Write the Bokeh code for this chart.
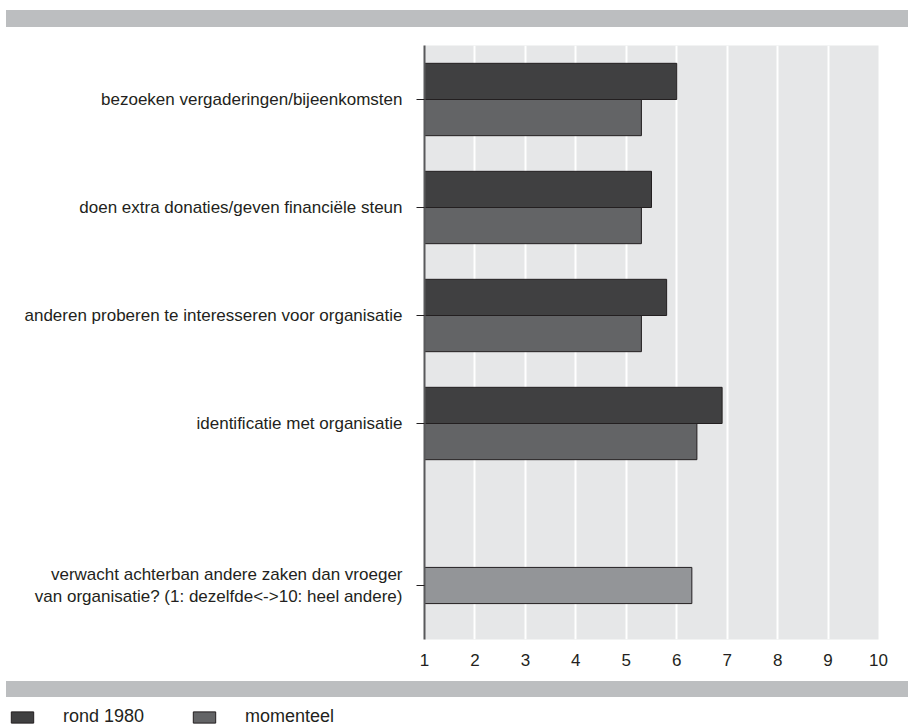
from bokeh.plotting import figure
from bokeh.models import (ColumnDataSource, FactorRange, Range1d, FixedTicker,
                          Legend, LegendItem, Div)
from bokeh.transform import dodge
from bokeh.layouts import column, row
from bokeh.embed import file_html
from bokeh.resources import INLINE

# ---- data ----
categories = [
    "bezoeken vergaderingen/bijeenkomsten",
    "doen extra donaties/geven financiële steun",
    "anderen proberen te interesseren voor organisatie",
    "identificatie met organisatie",
]
rond_1980 = [6.0, 5.5, 5.8, 6.9]
momenteel = [5.3, 5.3, 5.3, 6.4]
extra_category = ["verwacht achterban andere zaken dan vroeger\nvan organisatie? (1: dezelfde<->10: heel andere)"]
extra_value = [6.3]
x_ticks = [1, 2, 3, 4, 5, 6, 7, 8, 9, 10]
legend_labels = ["rond 1980", "momenteel"]

FONT = "Liberation Sans"
FS = "17px"
TEXT = "#231f20"
DARK = "#404041"
MID = "#636466"
LIGHT = "#939598"
BAND = "#bcbec0"
PANEL = "#e6e7e8"

# ---- top band ----
top_band = Div(text="", width=902, height=17, margin=(10, 0, 0, 6),
               styles={"background-color": BAND})

# ---- main chart ----
factors = [(" ", c) for c in extra_category] + [("", c) for c in reversed(categories)]
yr = FactorRange(*factors, group_padding=0.5, range_padding=0)

p = figure(width=908, height=654, output_backend="svg", toolbar_location=None,
           y_range=yr, x_range=Range1d(1, 10),
           min_border_left=424, min_border_right=30, min_border_top=18, min_border_bottom=42,
           background_fill_color=PANEL, border_fill_color="white", outline_line_color=None,
           margin=(0, 0, 0, 0))

src = ColumnDataSource(dict(y=[("", c) for c in categories], r1980=rond_1980, mom=momenteel))
src2 = ColumnDataSource(dict(y=[(" ", c) for c in extra_category], v=extra_value))

bh = 0.335
p.hbar(y=dodge("y", bh / 2, range=yr), left=1, right="r1980", height=bh, source=src,
       fill_color=DARK, line_color=TEXT, line_width=1)
p.hbar(y=dodge("y", -bh / 2, range=yr), left=1, right="mom", height=bh, source=src,
       fill_color=MID, line_color=TEXT, line_width=1)
p.hbar(y="y", left=1, right="v", height=bh, source=src2,
       fill_color=LIGHT, line_color=TEXT, line_width=1)

p.ygrid.visible = False
p.xgrid.ticker = FixedTicker(ticks=x_ticks)
p.xgrid.grid_line_color = "white"
p.xgrid.grid_line_width = 2

p.xaxis.ticker = FixedTicker(ticks=x_ticks)
p.xaxis.axis_line_color = None
p.xaxis.major_tick_line_color = None
p.xaxis.minor_tick_line_color = None
p.xaxis.major_label_standoff = 8
p.xaxis.major_label_text_font = FONT
p.xaxis.major_label_text_font_size = FS
p.xaxis.major_label_text_color = TEXT

p.yaxis.axis_line_color = "#58595b"
p.yaxis.axis_line_width = 2
p.yaxis.major_tick_line_color = TEXT
p.yaxis.major_tick_out = 8
p.yaxis.major_tick_in = 0
p.yaxis.major_label_standoff = 14
p.yaxis.major_label_text_font = FONT
p.yaxis.major_label_text_font_size = FS
p.yaxis.major_label_text_color = TEXT
p.yaxis.group_text_font_size = "0px"
p.yaxis.separator_line_color = None

# ---- bottom band ----
bottom_band = Div(text="", width=902, height=16, margin=(0, 0, 0, 6),
                  styles={"background-color": BAND})

# ---- legend row ----
leg = figure(width=908, height=31, output_backend="svg", toolbar_location=None,
             x_range=Range1d(0, 1), y_range=Range1d(0, 1),
             min_border_left=0, min_border_right=0, min_border_top=0, min_border_bottom=0,
             background_fill_color="white", border_fill_color="white", outline_line_color=None,
             margin=(0, 0, 0, 0))
leg.axis.visible = False
leg.grid.visible = False
# legend proxies: a single zero-size bar outside the visible range
proxy = ColumnDataSource(dict(y=[-1], right=[0]))
g1 = leg.hbar(y="y", left=0, right="right", height=0, source=proxy, fill_color=DARK, line_color=TEXT)
g2 = leg.hbar(y="y", left=0, right="right", height=0, source=proxy, fill_color=MID, line_color=TEXT)
legend = Legend(items=[LegendItem(label=legend_labels[0], renderers=[g1]),
                       LegendItem(label=legend_labels[1], renderers=[g2])],
                orientation="horizontal", location=(8, 1),
                glyph_width=28, glyph_height=14, label_height=14, label_standoff=27,
                spacing=46, padding=0, margin=0, border_line_color=None,
                background_fill_alpha=0, label_text_font=FONT,
                label_text_font_size="18px", label_text_color=TEXT)
leg.add_layout(legend)

layout = column(top_band, p, bottom_band, row(leg, spacing=0), spacing=0)
open("out.html", "w").write(file_html(layout, INLINE))
